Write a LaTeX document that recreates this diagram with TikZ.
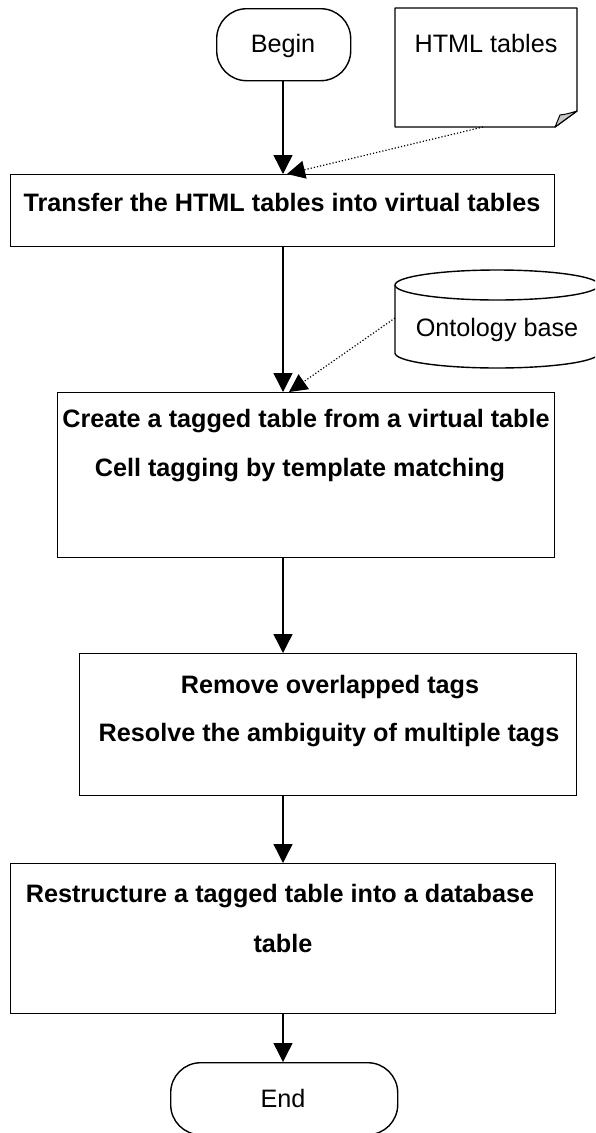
\documentclass[tikz,border=0pt]{standalone}
\usepackage{fontspec}
\setmainfont{Liberation Sans}
\usetikzlibrary{arrows.meta}
\tikzset{
  boxshape/.style={draw, line width=1.4pt, anchor=north west, inner sep=0pt, rectangle},
  termshape/.style={boxshape, rounded corners=30pt},
  txt/.style={anchor=base, inner sep=0pt, font=\fontsize{25.2}{49}\selectfont},
  btxt/.style={anchor=base, inner sep=0pt, font=\fontsize{25.2}{49}\selectfont\bfseries},
  flow/.style={line width=1.4pt, -{Triangle[width=19pt,length=19pt]}},
  dotflow/.style={dotted, line width=1.2pt, -{Triangle[width=18pt,length=18pt]}},
}
\begin{document}
\begin{tikzpicture}[x=1pt,y=-1pt]
\useasboundingbox (0,0) rectangle (595,1133);
\clip (0,0) rectangle (595,1133);

% terminals
\node[termshape, minimum width=134pt, minimum height=72pt] (begin) at (216,8) {};
\node[txt] (begintxt) at (283,52) {Begin};
\node[termshape, minimum width=227pt, minimum height=72pt] (end) at (170,1062) {};
\node[txt] (endtxt) at (283,1107) {End};

% document
\node[inner sep=0pt, anchor=north west, minimum width=182pt, minimum height=119pt] (doc) at (395,8) {};
\draw[line width=1.4pt, line join=round] (395,8) -- (577,8) -- (577,111) -- (555,127) -- (395,127) -- cycle;
\draw[line width=1pt, fill=black!22, line join=round] (555,127) -- (560,115) .. controls (567,114) .. (577,111) -- cycle;
\node[txt] (doctxt) at (486,52) {HTML tables};
\coordinate (docout) at (483,127);

% cylinder
\node[inner sep=0pt, anchor=north west, minimum width=204pt, minimum height=98pt] (onto) at (395,270) {};
\draw[line width=1.4pt] (497,285) ellipse[x radius=102, y radius=15];
\draw[line width=1.4pt] (395,285) -- (395,353) arc[start angle=180, end angle=0, x radius=102, y radius=15] -- (599,285);
\node[txt] (ontotxt) at (497,336) {Ontology base};
\coordinate (ontoout) at (395,318);

% process boxes
\node[boxshape, minimum width=544pt, minimum height=72pt] (b1) at (10,174) {};
\node[btxt] (t1) at (282,211) {Transfer the HTML tables into virtual tables};

\node[boxshape, minimum width=497pt, minimum height=165pt] (b2) at (57,392) {};
\node[btxt] (t2a) at (306,427) {Create a tagged table from a virtual table};
\node[btxt] (t2b) at (300,476) {Cell tagging by template matching};

\node[boxshape, minimum width=497pt, minimum height=142pt] (b3) at (79,653) {};
\node[btxt] (t3a) at (330,693) {Remove overlapped tags};
\node[btxt] (t3b) at (329,741) {Resolve the ambiguity of multiple tags};

\node[boxshape, minimum width=545pt, minimum height=150pt] (b4) at (10,863) {};
\node[btxt] (t4a) at (280,902) {Restructure a tagged table into a database};
\node[btxt] (t4b) at (283,952) {table};

% connectors
\coordinate (in1) at (287,174);
\coordinate (in2) at (289,392);
\draw[flow] (begin.south -| 283,0) -- (283,0 |- b1.north);
\draw[dotflow] (docout) -- (in1);
\draw[flow] (283,0 |- b1.south) -- (283,0 |- b2.north);
\draw[dotflow] (ontoout) -- (in2);
\draw[flow] (283,0 |- b2.south) -- (283,0 |- b3.north);
\draw[flow] (283,0 |- b3.south) -- (283,0 |- b4.north);
\draw[flow] (283,0 |- b4.south) -- (283,0 |- end.north);
\end{tikzpicture}
\end{document}
